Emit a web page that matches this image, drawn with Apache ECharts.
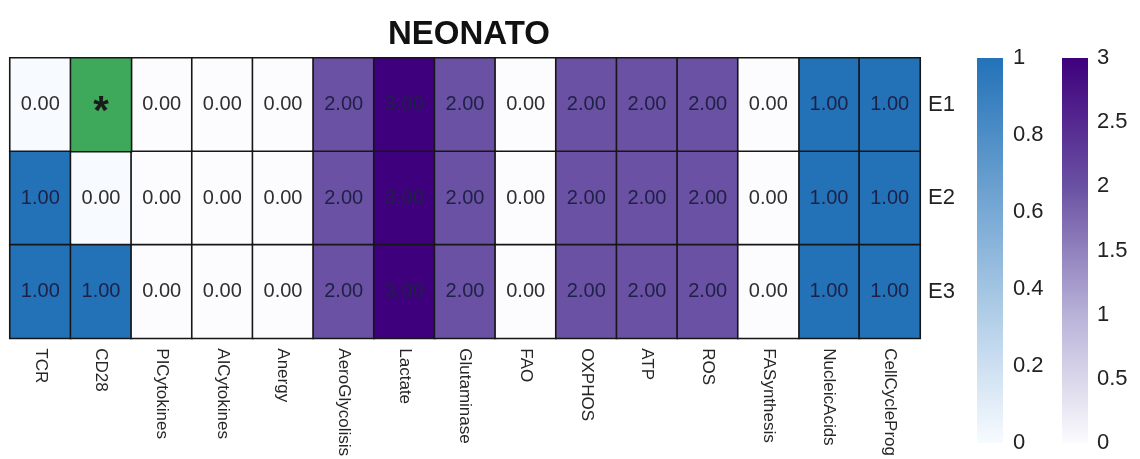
<!DOCTYPE html>
<html>
<head>
<meta charset="utf-8">
<script src="https://cdn.jsdelivr.net/npm/echarts@6/dist/echarts.min.js"></script>
<style>
  html, body { margin: 0; padding: 0; background: #ffffff; }
  #chart { width: 1140px; height: 459px; }
</style>
</head>
<body>
<div id="chart"></div>
<script>
// Heatmap of pathway scores per state (E1..E3), with two colour scales
const categories = ['TCR', 'CD28', 'PICytokines', 'AICytokines', 'Anergy', 'AeroGlycolisis', 'Lactate',
  'Glutaminase', 'FAO', 'OXPHOS', 'ATP', 'ROS', 'FASynthesis', 'NucleicAcids', 'CellCycleProg'];
const states = ['E1', 'E2', 'E3'];

// null marks a missing value (shown with an asterisk)
const E1 = [0, null, 0, 0, 0, 2, 3, 2, 0, 2, 2, 2, 0, 1, 1];
const E2 = [1, 0, 0, 0, 0, 2, 3, 2, 0, 2, 2, 2, 0, 1, 1];
const E3 = [1, 1, 0, 0, 0, 2, 3, 2, 0, 2, 2, 2, 0, 1, 1];

// columns coloured on the 0..1 blue scale; the rest use the 0..3 purple scale
const blueColumns = ['TCR', 'CD28', 'NucleicAcids', 'CellCycleProg'];

const blueTicks = [0, 0.2, 0.4, 0.6, 0.8, 1];
const purpleTicks = [0, 0.5, 1, 1.5, 2, 2.5, 3];

const blueColors = ['#f7fbff', '#2372b8'];
const purpleColors = ['#fcfbfd', '#b8b2d8', '#6a51a3', '#3f007d'];

const FONT = 'Liberation Sans, Arial, Helvetica, sans-serif';

const rowsData = [E1, E2, E3];
const blueData = [], purpleData = [], missingData = [];
rowsData.forEach((row, r) => {
  row.forEach((v, c) => {
    if (v === null) {
      missingData.push({ value: [c, r, 0] });
      return;
    }
    const item = {
      value: [c, r, v],
      label: { color: v > 0 ? '#1d2146' : '#2e2e2e' }
    };
    if (blueColumns.includes(categories[c])) blueData.push(item);
    else purpleData.push(item);
  });
});

function gradient(colors) {
  const n = colors.length - 1;
  return new echarts.graphic.LinearGradient(0, 1, 0, 0,
    colors.map((c, i) => ({ offset: i / n, color: c })));
}

const cellBorder = { borderColor: '#161616', borderWidth: 1.6 };
const cellLabel = {
  show: true,
  fontFamily: FONT,
  fontSize: 20,
  formatter: p => p.value[2].toFixed(2)
};

const option = {
  backgroundColor: '#ffffff',
  animation: false,
  title: {
    text: 'NEONATO',
    left: 464,
    top: 13,
    textAlign: 'center',
    textStyle: { fontFamily: FONT, fontSize: 33, fontWeight: 'bold', color: '#111' }
  },
  grid: [
    { left: 10, top: 58, width: 910, height: 281 },
    { left: 977, top: 58, width: 26, height: 385 },
    { left: 1062, top: 58, width: 26, height: 385 }
  ],
  xAxis: [
    {
      gridIndex: 0, type: 'category', data: categories, position: 'bottom',
      axisLine: { show: false }, axisTick: { show: false }, splitLine: { show: false },
      axisLabel: { rotate: -90, margin: 10, fontFamily: FONT, fontSize: 17, color: '#262626', interval: 0 }
    },
    { gridIndex: 1, type: 'category', data: ['scale'], show: false },
    { gridIndex: 2, type: 'category', data: ['scale'], show: false }
  ],
  yAxis: [
    {
      gridIndex: 0, type: 'category', data: states, inverse: true, position: 'right',
      axisLine: { show: false }, axisTick: { show: false }, splitLine: { show: false },
      axisLabel: { margin: 8, fontFamily: FONT, fontSize: 22, color: '#222' }
    },
    {
      gridIndex: 1, type: 'value', min: 0, max: 1, interval: 0.2, position: 'right',
      axisLine: { show: false }, axisTick: { show: false }, splitLine: { show: false },
      axisLabel: { margin: 10, fontFamily: FONT, fontSize: 22, color: '#222' }
    },
    {
      gridIndex: 2, type: 'value', min: 0, max: 3, interval: 0.5, position: 'right',
      axisLine: { show: false }, axisTick: { show: false }, splitLine: { show: false },
      axisLabel: { margin: 9, fontFamily: FONT, fontSize: 22, color: '#222' }
    }
  ],
  visualMap: [
    {
      type: 'continuous', show: false, seriesIndex: 0, dimension: 2,
      min: blueTicks[0], max: blueTicks[blueTicks.length - 1],
      inRange: { color: blueColors }
    },
    {
      type: 'continuous', show: false, seriesIndex: 1, dimension: 2,
      min: purpleTicks[0], max: purpleTicks[purpleTicks.length - 1],
      inRange: { color: purpleColors }
    }
  ],
  series: [
    {
      name: 'blue', type: 'heatmap', xAxisIndex: 0, yAxisIndex: 0,
      data: blueData, itemStyle: cellBorder, label: cellLabel,
      emphasis: { disabled: true }
    },
    {
      name: 'purple', type: 'heatmap', xAxisIndex: 0, yAxisIndex: 0,
      data: purpleData, itemStyle: cellBorder, label: cellLabel,
      emphasis: { disabled: true }
    },
    {
      name: 'missing', type: 'heatmap', xAxisIndex: 0, yAxisIndex: 0,
      data: missingData,
      itemStyle: Object.assign({ color: '#3ea95a' }, cellBorder),
      label: { show: true, formatter: '*', fontFamily: FONT, fontSize: 40, fontWeight: 'bold', color: '#1a1a1a', offset: [0, 8] },
      emphasis: { disabled: true }
    },
    {
      name: 'blueScale', type: 'bar', xAxisIndex: 1, yAxisIndex: 1,
      data: [blueTicks[blueTicks.length - 1]], barWidth: '100%',
      itemStyle: { color: gradient(blueColors) }, silent: true
    },
    {
      name: 'purpleScale', type: 'bar', xAxisIndex: 2, yAxisIndex: 2,
      data: [purpleTicks[purpleTicks.length - 1]], barWidth: '100%',
      itemStyle: { color: gradient(purpleColors) }, silent: true
    }
  ]
};

const chart = echarts.init(document.getElementById('chart'), null, { renderer: 'canvas' });
chart.setOption(option);
</script>
</body>
</html>
